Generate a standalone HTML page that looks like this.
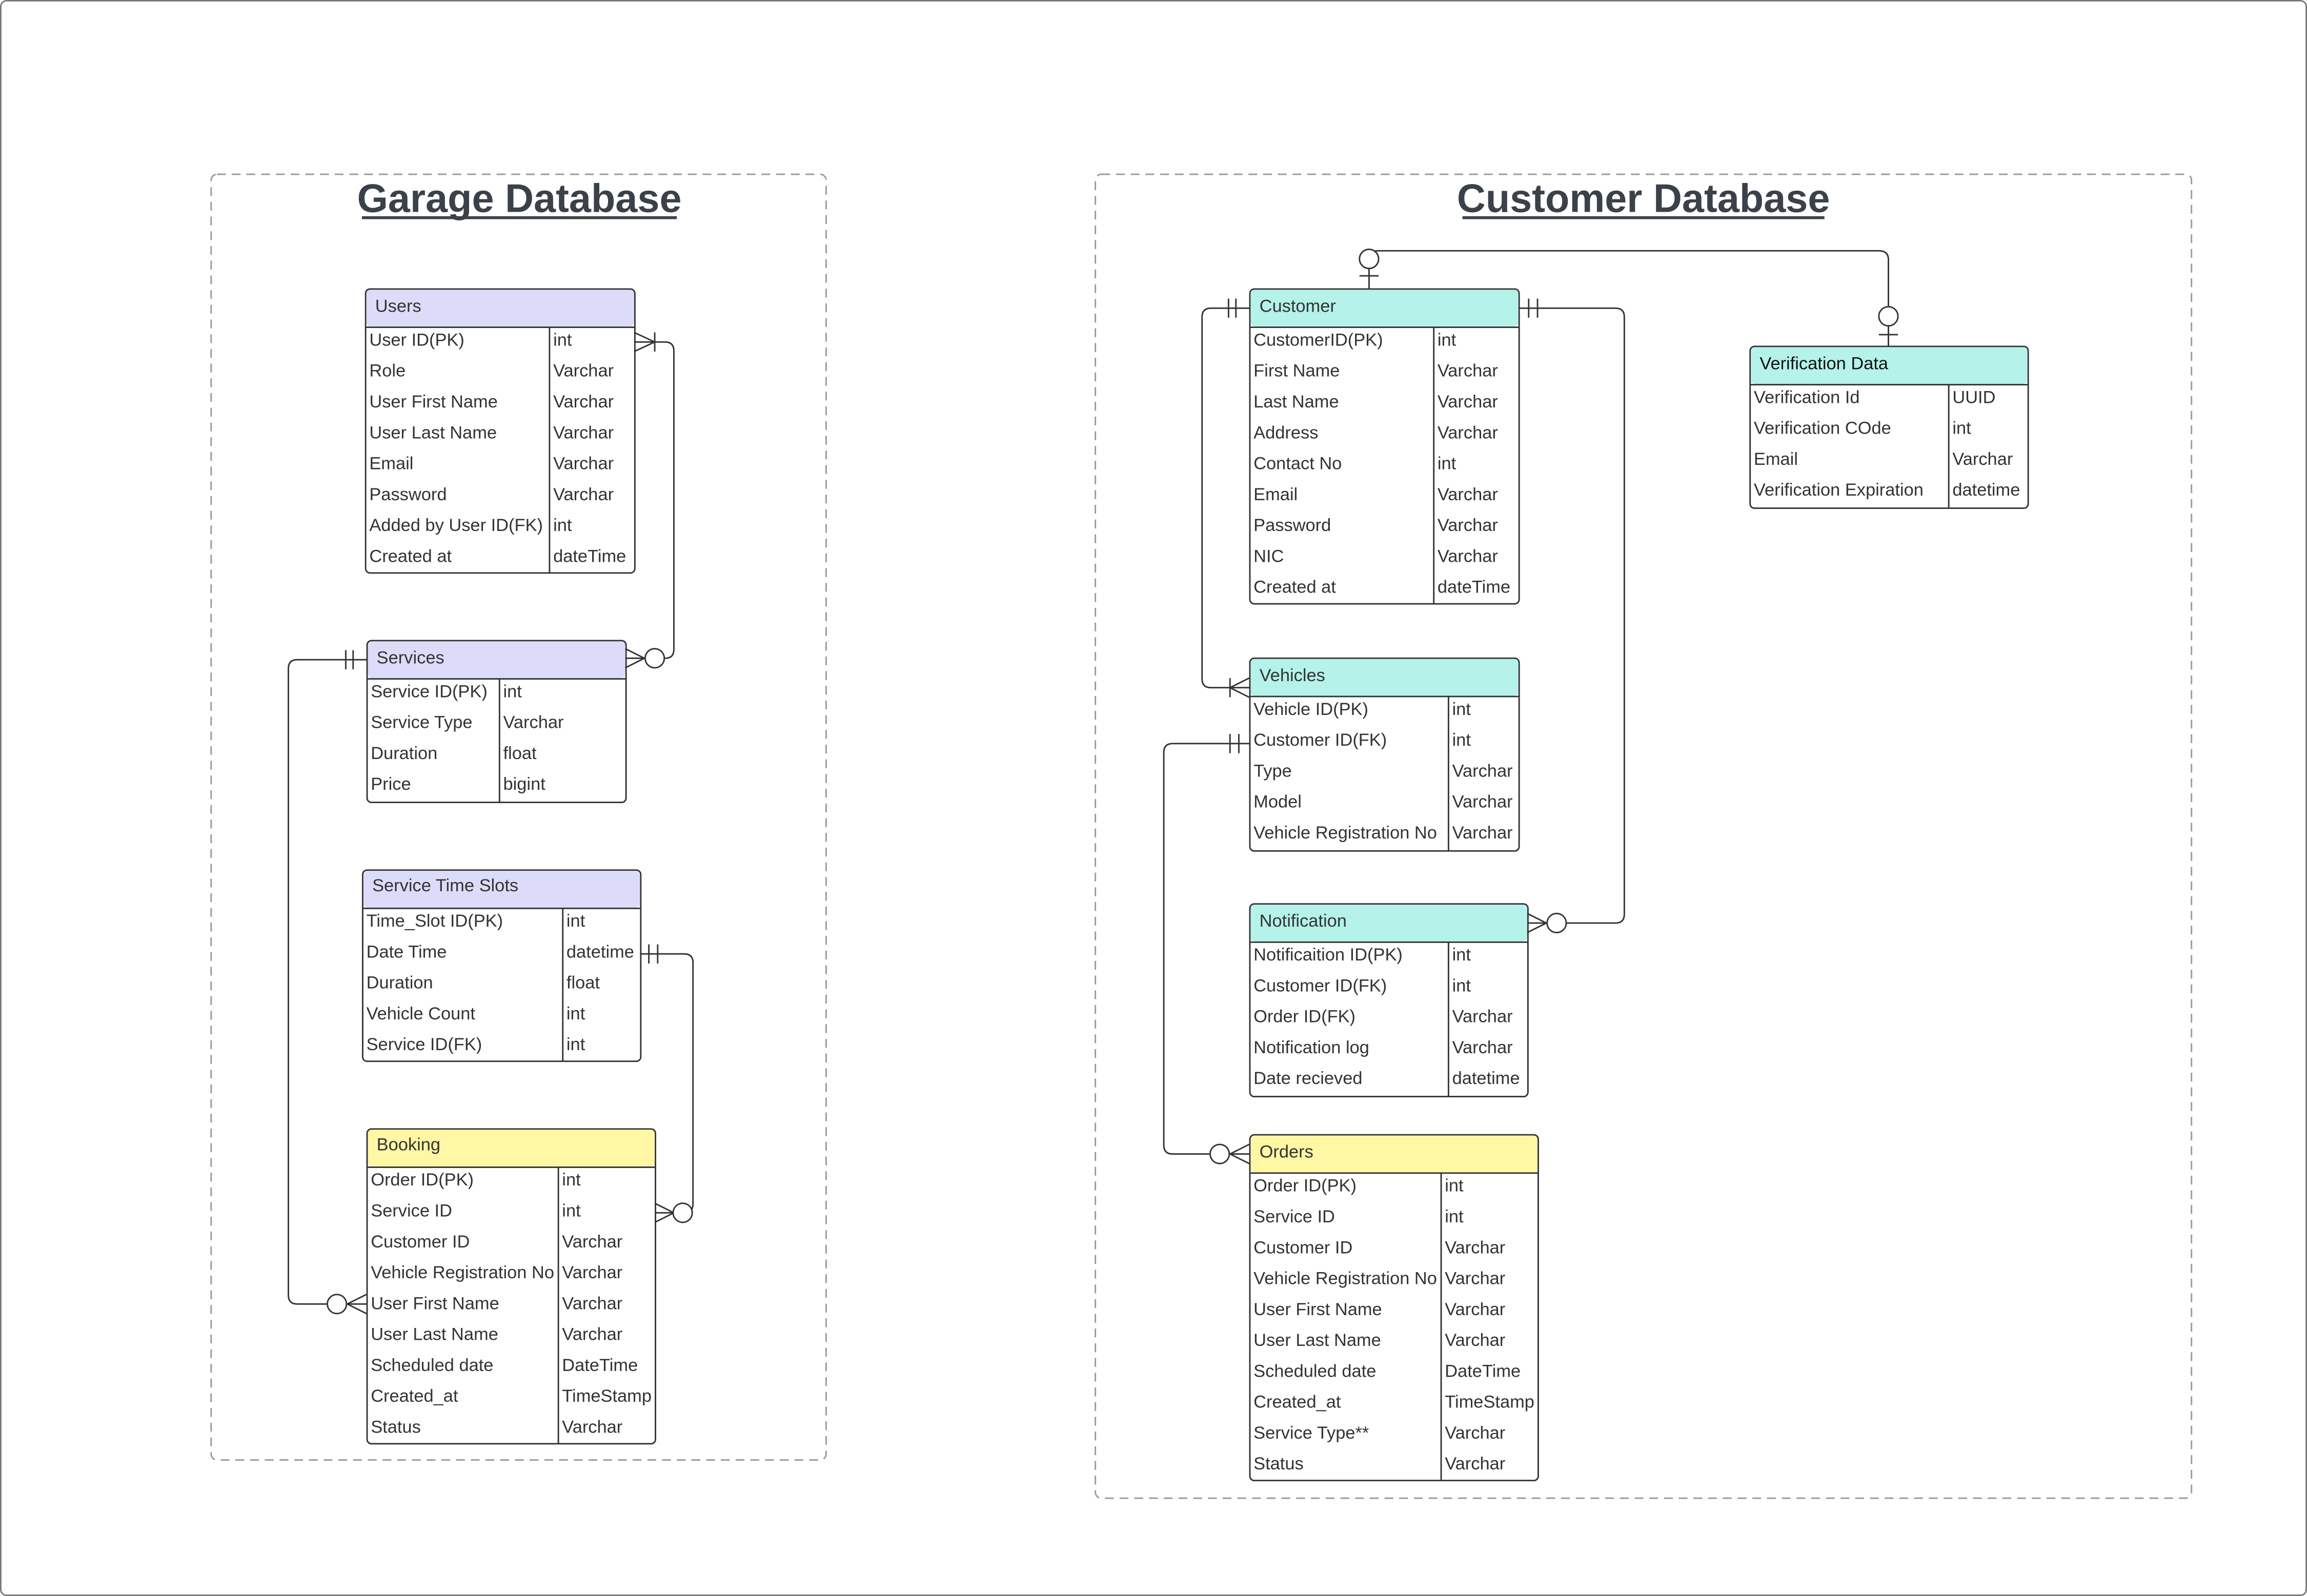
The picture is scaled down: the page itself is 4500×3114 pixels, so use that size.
<!DOCTYPE html>
<html><head><meta charset="utf-8"><style>
html,body{margin:0;padding:0;background:#fff;}
svg{display:block;}
text{font-family:"Liberation Sans",Arial,sans-serif;font-size:12px;fill:#333;}
.t{font-size:27px;font-weight:bold;fill:#3a414a;}
.c{fill:none;stroke:#333;stroke-width:1;}
</style></head><body>
<svg width="4500" height="3114" viewBox="0 0 1568 1085" preserveAspectRatio="none" xmlns="http://www.w3.org/2000/svg">
<rect x="0.5" y="0.5" width="1567" height="1084" rx="4" fill="#fff" stroke="#777" stroke-width="1"/>
<rect x="143.5" y="118.5" width="418" height="874" rx="4" fill="none" stroke="#999" stroke-dasharray="6,4"/>
<rect x="744.5" y="118.5" width="745" height="900" rx="4" fill="none" stroke="#999" stroke-dasharray="6,4"/>
<text class="t" x="353" y="144" text-anchor="middle">Garage Database</text>
<line x1="246" y1="148" x2="460" y2="148" stroke="#3a414a" stroke-width="2"/>
<text class="t" x="1117" y="144" text-anchor="middle">Customer Database</text>
<line x1="994" y1="148" x2="1240" y2="148" stroke="#3a414a" stroke-width="2"/>

<!-- Users -->
<rect x="248.5" y="196.5" width="183" height="193" rx="3" fill="#fff" stroke="#333"/>
<rect x="249" y="197" width="182" height="25" rx="3" fill="#dcdcfa"/>
<line x1="248.5" y1="222.5" x2="431.5" y2="222.5" stroke="#333"/>
<line x1="373.5" y1="222.5" x2="373.5" y2="389.5" stroke="#333"/>
<text x="255" y="212">Users</text>
<text x="251" y="235">User ID(PK)</text><text x="376" y="235">int</text>
<text x="251" y="256">Role</text><text x="376" y="256">Varchar</text>
<text x="251" y="277">User First Name</text><text x="376" y="277">Varchar</text>
<text x="251" y="298">User Last Name</text><text x="376" y="298">Varchar</text>
<text x="251" y="319">Email</text><text x="376" y="319">Varchar</text>
<text x="251" y="340">Password</text><text x="376" y="340">Varchar</text>
<text x="251" y="361">Added by User ID(FK)</text><text x="376" y="361">int</text>
<text x="251" y="382">Created at</text><text x="376" y="382">dateTime</text>

<!-- Services -->
<rect x="249.5" y="435.5" width="176" height="110" rx="3" fill="#fff" stroke="#333"/>
<rect x="250" y="436" width="175" height="25" rx="3" fill="#dcdcfa"/>
<line x1="249.5" y1="461.5" x2="425.5" y2="461.5" stroke="#333"/>
<line x1="339.5" y1="461.5" x2="339.5" y2="545.5" stroke="#333"/>
<text x="256" y="451">Services</text>
<text x="252" y="474">Service ID(PK)</text><text x="342" y="474">int</text>
<text x="252" y="495">Service Type</text><text x="342" y="495">Varchar</text>
<text x="252" y="516">Duration</text><text x="342" y="516">float</text>
<text x="252" y="537">Price</text><text x="342" y="537">bigint</text>

<!-- Service Time Slots -->
<rect x="246.5" y="591.5" width="189" height="130" rx="3" fill="#fff" stroke="#333"/>
<rect x="247" y="592" width="188" height="25" rx="3" fill="#dcdcfa"/>
<line x1="246.5" y1="617.5" x2="435.5" y2="617.5" stroke="#333"/>
<line x1="382.5" y1="617.5" x2="382.5" y2="721.5" stroke="#333"/>
<text x="253" y="606">Service Time Slots</text>
<text x="249" y="630">Time_Slot ID(PK)</text><text x="385" y="630">int</text>
<text x="249" y="651">Date Time</text><text x="385" y="651">datetime</text>
<text x="249" y="672">Duration</text><text x="385" y="672">float</text>
<text x="249" y="693">Vehicle Count</text><text x="385" y="693">int</text>
<text x="249" y="714">Service ID(FK)</text><text x="385" y="714">int</text>

<!-- Booking -->
<rect x="249.5" y="767.5" width="196" height="214" rx="3" fill="#fff" stroke="#333"/>
<rect x="250" y="768" width="195" height="25" rx="3" fill="#fff7a3"/>
<line x1="249.5" y1="793.5" x2="445.5" y2="793.5" stroke="#333"/>
<line x1="379.5" y1="793.5" x2="379.5" y2="981.5" stroke="#333"/>
<text x="256" y="782">Booking</text>
<text x="252" y="806">Order ID(PK)</text><text x="382" y="806">int</text>
<text x="252" y="827">Service ID</text><text x="382" y="827">int</text>
<text x="252" y="848">Customer ID</text><text x="382" y="848">Varchar</text>
<text x="252" y="869">Vehicle Registration No</text><text x="382" y="869">Varchar</text>
<text x="252" y="890">User First Name</text><text x="382" y="890">Varchar</text>
<text x="252" y="911">User Last Name</text><text x="382" y="911">Varchar</text>
<text x="252" y="932">Scheduled date</text><text x="382" y="932">DateTime</text>
<text x="252" y="953">Created_at</text><text x="382" y="953">TimeStamp</text>
<text x="252" y="974">Status</text><text x="382" y="974">Varchar</text>

<!-- Customer -->
<rect x="849.5" y="196.5" width="183" height="214" rx="3" fill="#fff" stroke="#333"/>
<rect x="850" y="197" width="182" height="25" rx="3" fill="#b4f2ea"/>
<line x1="849.5" y1="222.5" x2="1032.5" y2="222.5" stroke="#333"/>
<line x1="974.5" y1="222.5" x2="974.5" y2="410.5" stroke="#333"/>
<text x="856" y="212">Customer</text>
<text x="852" y="235">CustomerID(PK)</text><text x="977" y="235">int</text>
<text x="852" y="256">First Name</text><text x="977" y="256">Varchar</text>
<text x="852" y="277">Last Name</text><text x="977" y="277">Varchar</text>
<text x="852" y="298">Address</text><text x="977" y="298">Varchar</text>
<text x="852" y="319">Contact No</text><text x="977" y="319">int</text>
<text x="852" y="340">Email</text><text x="977" y="340">Varchar</text>
<text x="852" y="361">Password</text><text x="977" y="361">Varchar</text>
<text x="852" y="382">NIC</text><text x="977" y="382">Varchar</text>
<text x="852" y="403">Created at</text><text x="977" y="403">dateTime</text>

<!-- Verification Data -->
<rect x="1189.5" y="235.5" width="189" height="110" rx="3" fill="#fff" stroke="#333"/>
<rect x="1190" y="236" width="188" height="25" rx="3" fill="#b4f2ea"/>
<line x1="1189.5" y1="261.5" x2="1378.5" y2="261.5" stroke="#333"/>
<line x1="1324.5" y1="261.5" x2="1324.5" y2="345.5" stroke="#333"/>
<text x="1196" y="251" style="fill:#111">Verification Data</text>
<text x="1192" y="274">Verification Id</text><text x="1327" y="274">UUID</text>
<text x="1192" y="295">Verification COde</text><text x="1327" y="295">int</text>
<text x="1192" y="316">Email</text><text x="1327" y="316">Varchar</text>
<text x="1192" y="337">Verification Expiration</text><text x="1327" y="337">datetime</text>

<!-- Vehicles -->
<rect x="849.5" y="447.5" width="183" height="131" rx="3" fill="#fff" stroke="#333"/>
<rect x="850" y="448" width="182" height="25" rx="3" fill="#b4f2ea"/>
<line x1="849.5" y1="473.5" x2="1032.5" y2="473.5" stroke="#333"/>
<line x1="984.5" y1="473.5" x2="984.5" y2="578.5" stroke="#333"/>
<text x="856" y="463">Vehicles</text>
<text x="852" y="486">Vehicle ID(PK)</text><text x="987" y="486">int</text>
<text x="852" y="507">Customer ID(FK)</text><text x="987" y="507">int</text>
<text x="852" y="528">Type</text><text x="987" y="528">Varchar</text>
<text x="852" y="549">Model</text><text x="987" y="549">Varchar</text>
<text x="852" y="570">Vehicle Registration No</text><text x="987" y="570">Varchar</text>

<!-- Notification -->
<rect x="849.5" y="614.5" width="189" height="131" rx="3" fill="#fff" stroke="#333"/>
<rect x="850" y="615" width="188" height="25" rx="3" fill="#b4f2ea"/>
<line x1="849.5" y1="640.5" x2="1038.5" y2="640.5" stroke="#333"/>
<line x1="984.5" y1="640.5" x2="984.5" y2="745.5" stroke="#333"/>
<text x="856" y="630">Notification</text>
<text x="852" y="653">Notificaition ID(PK)</text><text x="987" y="653">int</text>
<text x="852" y="674">Customer ID(FK)</text><text x="987" y="674">int</text>
<text x="852" y="695">Order ID(FK)</text><text x="987" y="695">Varchar</text>
<text x="852" y="716">Notification log</text><text x="987" y="716">Varchar</text>
<text x="852" y="737">Date recieved</text><text x="987" y="737">datetime</text>

<!-- Orders -->
<rect x="849.5" y="771.5" width="196" height="235" rx="3" fill="#fff" stroke="#333"/>
<rect x="850" y="772" width="195" height="25" rx="3" fill="#fff7a3"/>
<line x1="849.5" y1="797.5" x2="1045.5" y2="797.5" stroke="#333"/>
<line x1="979.5" y1="797.5" x2="979.5" y2="1006.5" stroke="#333"/>
<text x="856" y="787">Orders</text>
<text x="852" y="810">Order ID(PK)</text><text x="982" y="810">int</text>
<text x="852" y="831">Service ID</text><text x="982" y="831">int</text>
<text x="852" y="852">Customer ID</text><text x="982" y="852">Varchar</text>
<text x="852" y="873">Vehicle Registration No</text><text x="982" y="873">Varchar</text>
<text x="852" y="894">User First Name</text><text x="982" y="894">Varchar</text>
<text x="852" y="915">User Last Name</text><text x="982" y="915">Varchar</text>
<text x="852" y="936">Scheduled date</text><text x="982" y="936">DateTime</text>
<text x="852" y="957">Created_at</text><text x="982" y="957">TimeStamp</text>
<text x="852" y="978">Service Type**</text><text x="982" y="978">Varchar</text>
<text x="852" y="999">Status</text><text x="982" y="999">Varchar</text>

<!-- Connectors -->
<g class="c">
<!-- Users - Services -->
<path d="M431,232.5 H452 Q458,232.5 458,238.5 V441.5 Q458,447.5 452,447.5 H451"/>
<path d="M431,226 L445,232.5 L431,239 M445,226 V239"/>
<path d="M425,441 L438,447.5 L425,454 M425,447.5 H438"/>
<circle cx="445" cy="447.5" r="6.5" fill="#fff"/>
<!-- Services - Booking -->
<path d="M249,448.5 H202 Q196,448.5 196,454.5 V880.5 Q196,886.5 202,886.5 H222"/>
<path d="M235,442 V455 M240,442 V455"/>
<path d="M249,880 L236,886.5 L249,893 M236,886.5 H249"/>
<circle cx="229" cy="886.5" r="6.5" fill="#fff"/>
<!-- Slots - Booking -->
<path d="M435,648.5 H465 Q471,648.5 471,654.5 V818.5 Q471,824.5 465,824.5 H445"/>
<path d="M441,642 V655 M447,642 V655"/>
<path d="M445,818 L458,824.5 L445,831"/>
<circle cx="464" cy="824.5" r="6.5" fill="#fff"/>
<!-- Customer - Verification -->
<path d="M930.5,196 V176 Q930.5,170.5 936.5,170.5 H1277 Q1283.5,170.5 1283.5,176.5 V235"/>
<ellipse cx="930.5" cy="176" rx="6.5" ry="6.5" fill="#fff"/>
<path d="M924,187.5 H937"/>
<ellipse cx="1283.5" cy="215" rx="6.5" ry="6.5" fill="#fff"/>
<path d="M1277,227.5 H1290"/>
<!-- Customer - Vehicles -->
<path d="M849,209.5 H823 Q817,209.5 817,215.5 V461.5 Q817,467.5 823,467.5 H849"/>
<path d="M835,203 V216 M840,203 V216"/>
<path d="M849,461 L836,467.5 L849,474 M836,461 V474"/>
<!-- Customer - Notification -->
<path d="M1032,209.5 H1098 Q1104,209.5 1104,215.5 V621.5 Q1104,627.5 1098,627.5 H1038"/>
<path d="M1039,203 V216 M1045,203 V216"/>
<path d="M1038,621 L1051,627.5 L1038,634"/>
<circle cx="1058" cy="627.5" r="6.5" fill="#fff"/>
<!-- Vehicles - Orders -->
<path d="M849,505.5 H797 Q791,505.5 791,511.5 V778.5 Q791,784.5 797,784.5 H822"/>
<path d="M836,499 V512 M842,499 V512"/>
<path d="M849,778 L836,784.5 L849,791 M836,784.5 H849"/>
<circle cx="829" cy="784.5" r="6.5" fill="#fff"/>
</g>
</svg>
</body></html>
